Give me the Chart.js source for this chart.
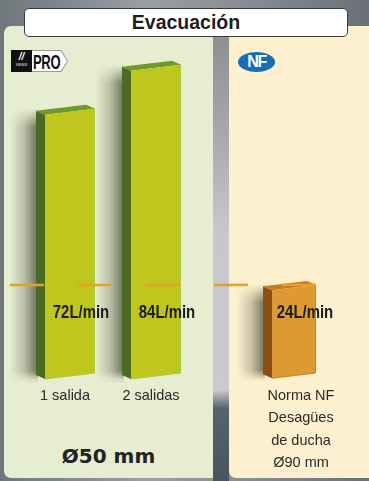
<!DOCTYPE html>
<html>
<head>
<meta charset="utf-8">
<script src="https://cdn.jsdelivr.net/npm/chart.js@4.4.0/dist/chart.umd.min.js"></script>
<style>
  html, body { margin: 0; padding: 0; }
  body {
    width: 369px; height: 481px; position: relative; overflow: hidden;
    background: linear-gradient(90deg, #6f777c 0%, #9a9fa3 40%, #848a8f 70%, #6a7176 100%);
    font-family: "Liberation Sans", Arial, sans-serif;
  }
  .panel { position: absolute; top: 26px; height: 452px; }
  #izq { left: 4px; width: 209px; background: #e6edd1; border-radius: 7px 0 0 7px; }
  #der { left: 229px; width: 140px; background: #fdf0cf; border-radius: 0 0 0 7px; }
  #hueco {
    position: absolute; left: 213px; top: 26px; width: 16px; height: 455px;
    background: linear-gradient(180deg, #8b8d91 0%, #a9a9ae 25%, #c8c7ce 45%, #ccc9cf 80%, #55646c 84%, #46555e 100%);
  }
  #titulo {
    position: absolute; left: 24px; top: 8px; width: 322px; height: 27px;
    background: #fff; border: 1.5px solid #3a3a3a; border-radius: 5px;
    text-align: center; font-weight: bold; font-size: 19.5px; line-height: 27px; color: #1e1e1e;
  }
  #logoPro { position: absolute; left: 11px; top: 50px; height: 22px; }
  #logoPro .neg {
    position: absolute; left: 0; top: 0; width: 21px; height: 22px; background: #111;
    color: #fff; font-size: 3px; line-height: 4px; text-align: center;
  }
  #logoPro .neg b { display: block; font-size: 10px; line-height: 13px; font-style: italic; }
  #logoPro .pro {
    position: absolute; left: 21px; top: 0; width: 36px; height: 22px; background: #9a9a9a;
    clip-path: polygon(0 0, 82% 0, 100% 50%, 82% 100%, 0 100%);
  }
  #logoPro .pro span {
    position: absolute; left: 0; top: 1px; width: 35px; height: 20px; background: #fff;
    clip-path: polygon(0 0, 82% 0, 100% 50%, 82% 100%, 0 100%);
  }
  #logoPro .pro i {
    position: absolute; left: 1px; top: 0; font-style: normal;
    font-weight: bold; font-size: 21px; line-height: 21px; color: #111;
    transform: scaleX(0.62); transform-origin: 0 0; letter-spacing: -0.5px;
  }
  #logoNF {
    position: absolute; left: 238px; top: 52px; width: 37px; height: 20px; border-radius: 50%;
    background: #1a6cb3; color: #fff; font-weight: bold; font-size: 16px; line-height: 20px;
    text-align: center; letter-spacing: -1.5px;
  }
  #diametro {
    position: absolute; left: 4px; width: 209px; top: 444px; text-align: center;
    font-family: "DejaVu Sans", sans-serif; font-weight: bold; font-size: 20px; color: #222;
  }
  canvas { position: absolute; top: 0; }
  #graficoIzq { left: 0; }
  #graficoDer { left: 213px; }
</style>
</head>
<body>
<div class="panel" id="izq"></div>
<div class="panel" id="der"></div>
<div id="hueco"></div>
<div id="titulo">Evacuación</div>
<div id="logoPro"><div class="neg"><b>//</b>VIEGUS</div><div class="pro"><span><i>PRO</i></span></div></div>
<div id="logoNF">NF</div>
<div id="diametro">Ø50 mm</div>
<canvas id="graficoIzq" width="213" height="481"></canvas>
<canvas id="graficoDer" width="156" height="481"></canvas>
<script>
// caudal de evacuación (L/min)
const salidas = ["1 salida", "2 salidas"];
const caudalSalidas = [72, 84];
const norma = [["Norma NF", "Desagües", "de ducha", "Ø90 mm"]];
const caudalNorma = [24];
const caudalNF = 24; // línea de referencia de la norma
const unidad = "L/min";

const alturaEje = 108;

// sombra suave: degradado horizontal con los extremos verticales difuminados
function sombra(ctx, x, y, w, h) {
  const c = document.createElement("canvas");
  c.width = Math.ceil(w);
  c.height = Math.ceil(h);
  const o = c.getContext("2d");
  const g = o.createLinearGradient(0, 0, w, 0);
  g.addColorStop(0, "rgba(30,35,20,0)");
  g.addColorStop(0.5, "rgba(30,35,20,0.22)");
  g.addColorStop(1, "rgba(30,35,20,0.62)");
  o.fillStyle = g;
  o.fillRect(0, 0, w, h);
  o.globalCompositeOperation = "destination-out";
  const arriba = o.createLinearGradient(0, 0, 0, 18);
  arriba.addColorStop(0, "rgba(0,0,0,1)");
  arriba.addColorStop(1, "rgba(0,0,0,0)");
  o.fillStyle = arriba;
  o.fillRect(0, 0, w, 18);
  const abajo = o.createLinearGradient(0, h - 10, 0, h);
  abajo.addColorStop(0, "rgba(0,0,0,0)");
  abajo.addColorStop(1, "rgba(0,0,0,1)");
  o.fillStyle = abajo;
  o.fillRect(0, h - 10, w, 10);
  ctx.drawImage(c, x, y);
}

// dibuja cada barra como un bloque con cara lateral y superior
const barras3D = {
  id: "barras3D",
  beforeDatasetDraw(chart, args, opts) {
    const ctx = chart.ctx;
    args.meta.data.forEach(function (bar) {
      const p = bar.getProps(["x", "y", "base", "width"], true);
      const L = p.x - p.width / 2, R = p.x + p.width / 2;
      const s = p.width * 0.12, dx = 9, dy = 4;
      const yTop = p.y, yBase = p.base;

      sombra(ctx, L - dx - 26, yTop + s - 6, 28, yBase - yTop + 8);

      // cara lateral
      ctx.fillStyle = opts.lado;
      ctx.beginPath();
      ctx.moveTo(L, yTop + s);
      ctx.lineTo(L, yBase + s);
      ctx.lineTo(L - dx, yBase + s - dy);
      ctx.lineTo(L - dx, yTop + s - dy);
      ctx.closePath();
      ctx.fill();

      // cara superior
      ctx.fillStyle = opts.techo;
      ctx.beginPath();
      ctx.moveTo(L, yTop + s);
      ctx.lineTo(R, yTop);
      ctx.lineTo(R - dx, yTop - dy);
      ctx.lineTo(L - dx, yTop + s - dy);
      ctx.closePath();
      ctx.fill();

      // cara frontal
      ctx.fillStyle = opts.frente;
      ctx.beginPath();
      ctx.moveTo(L, yTop + s);
      ctx.lineTo(R, yTop);
      ctx.lineTo(R, yBase);
      ctx.lineTo(L, yBase + s);
      ctx.closePath();
      ctx.fill();
      ctx.strokeStyle = opts.borde;
      ctx.lineWidth = 1;
      ctx.beginPath();
      ctx.moveTo(R - 0.5, yTop);
      ctx.lineTo(R - 0.5, yBase);
      ctx.lineTo(L, yBase + s);
      ctx.stroke();
    });
    return false;
  },
  afterDatasetsDraw(chart, args, opts) {
    const ctx = chart.ctx;
    const yScale = chart.scales.y;
    const meta = chart.getDatasetMeta(0);
    const origen = chart.canvas.offsetLeft;

    // línea discontinua de la norma NF
    const yRef = yScale.getPixelForValue(caudalNF);
    let x0 = opts.lineaDesde;
    let x1 = opts.lineaHasta;
    if (x1 === "barra") {
      const b = meta.data[meta.data.length - 1];
      x1 = b.x + b.width / 2;
    }
    ctx.save();
    ctx.strokeStyle = "#e8a024";
    ctx.lineWidth = 2.5;
    ctx.setLineDash([34, 34]);
    ctx.lineDashOffset = origen + x0 - 10;
    ctx.beginPath();
    ctx.moveTo(x0, yRef);
    ctx.lineTo(x1, yRef);
    ctx.stroke();
    ctx.restore();

    // etiquetas de caudal (letra estrecha)
    const valores = chart.data.datasets[0].data;
    ctx.save();
    ctx.font = "bold 18px 'Liberation Sans', Arial, sans-serif";
    ctx.fillStyle = "#1d1d1d";
    ctx.textAlign = "center";
    ctx.textBaseline = "middle";
    meta.data.forEach(function (bar, i) {
      ctx.save();
      ctx.translate(bar.x + 11, bar.base - 60);
      ctx.scale(0.83, 1);
      ctx.fillText(valores[i] + unidad, 0, 0);
      ctx.restore();
    });
    ctx.restore();
  }
};

function opciones(relleno, desplazamiento, colores, linea) {
  return {
    responsive: false,
    animation: false,
    devicePixelRatio: 1,
    layout: { padding: { left: relleno[0], right: relleno[1], top: 6, bottom: 0 } },
    plugins: {
      legend: { display: false },
      tooltip: { enabled: false },
      barras3D: Object.assign({}, colores, linea)
    },
    scales: {
      x: {
        grid: { display: false, drawTicks: false },
        border: { display: false },
        ticks: {
          color: "#2a2a2a",
          font: { family: "'Liberation Sans', Arial, sans-serif", size: 14.5, lineHeight: 1.54 },
          padding: 12,
          labelOffset: desplazamiento,
          maxRotation: 0,
          autoSkip: false
        },
        afterFit: function (scale) { scale.height = alturaEje; }
      },
      y: { display: false, min: 0, max: 100 }
    }
  };
}

const verde = { frente: "#bfc71f", lado: "#4b6a22", techo: "#6c9a2c", borde: "#a9cb3a" };
const naranja = { frente: "#dc9a35", lado: "#8b4f15", techo: "#c87c20", borde: "#c8842a" };

new Chart(document.getElementById("graficoIzq"), {
  type: "bar",
  data: {
    labels: salidas,
    datasets: [{ data: caudalSalidas, backgroundColor: verde.frente, barThickness: 50 }]
  },
  options: opciones([27, 14], -5, verde, { lineaDesde: 10, lineaHasta: 213 }),
  plugins: [barras3D]
});

new Chart(document.getElementById("graficoDer"), {
  type: "bar",
  data: {
    labels: norma,
    datasets: [{ data: caudalNorma, backgroundColor: naranja.frente, barThickness: 44 }]
  },
  options: opciones([20, 14], 7, naranja, { lineaDesde: 0, lineaHasta: "barra" }),
  plugins: [barras3D]
});
</script>
</body>
</html>
